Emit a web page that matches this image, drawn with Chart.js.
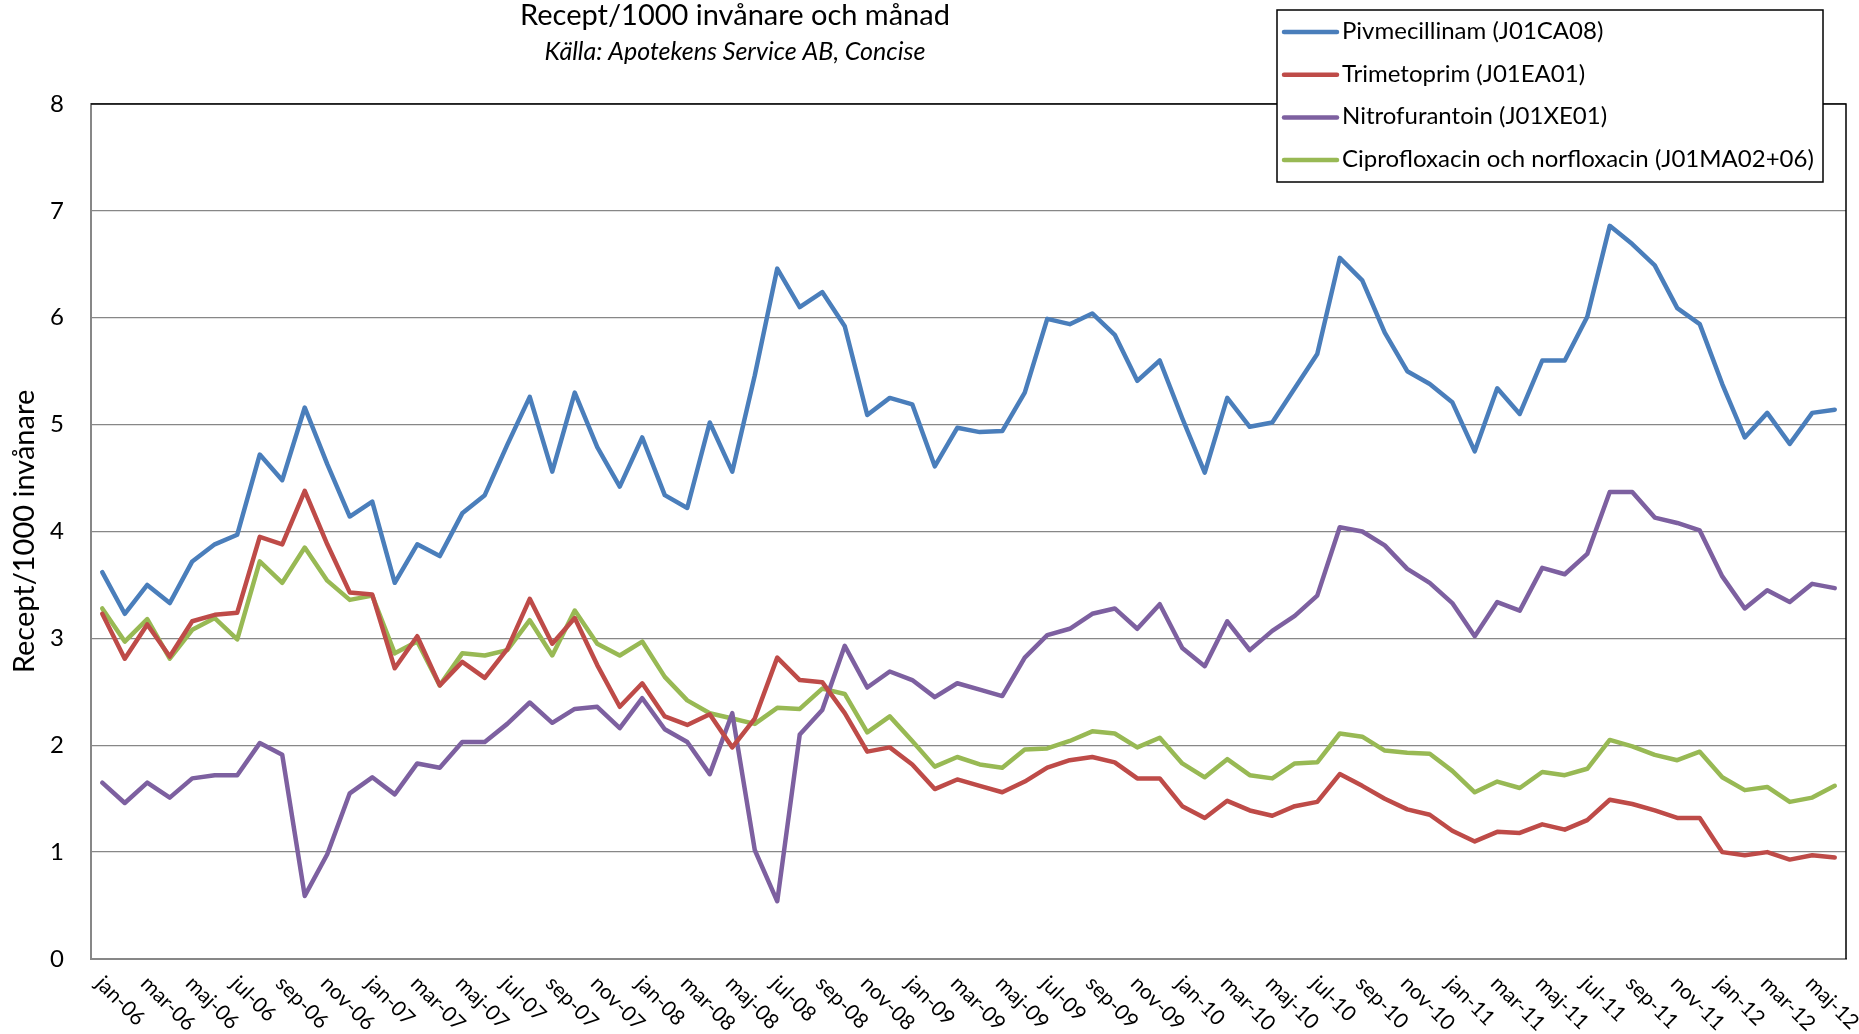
<!DOCTYPE html>
<html>
<head>
<meta charset="utf-8">
<title>Recept/1000 invånare och månad</title>
<script src="https://cdn.jsdelivr.net/npm/chart.js@4.4.1/dist/chart.umd.min.js"></script>
<style>
  html, body { margin: 0; padding: 0; background: #fff; }
  #wrap { width: 1859px; height: 1034px; position: relative; }
</style>
</head>
<body>
<div id="wrap"><canvas id="chart"></canvas></div>
<script>
var MONTHS = ['jan','feb','mar','apr','maj','jun','jul','aug','sep','okt','nov','dec'];
var YEARS = ['06','07','08','09','10','11','12'];
var MONTH_COUNT = 78; // jan-06 .. jun-12

var labels = [];
for (var i = 0; i < MONTH_COUNT; i++) {
  labels.push(MONTHS[i % 12] + '-' + YEARS[Math.floor(i / 12)]);
}

var SERIES_NAMES = [
  'Pivmecillinam (J01CA08)',
  'Trimetoprim (J01EA01)',
  'Nitrofurantoin (J01XE01)',
  'Ciprofloxacin och norfloxacin (J01MA02+06)'
];
var SERIES_COLORS = ['#4A7EBB', '#BE4B48', '#7D60A0', '#98B954'];

var pivmecillinam = [
  3.62, 3.23, 3.50, 3.33, 3.72, 3.88, 3.97, 4.72, 4.48, 5.16, 4.63, 4.14,
  4.28, 3.52, 3.88, 3.77, 4.17, 4.34, 4.81, 5.26, 4.56, 5.30, 4.79, 4.42,
  4.88, 4.34, 4.22, 5.02, 4.56, 5.46, 6.46, 6.10, 6.24, 5.92, 5.09, 5.25,
  5.19, 4.61, 4.97, 4.93, 4.94, 5.30, 5.99, 5.94, 6.04, 5.84, 5.41, 5.60,
  5.06, 4.55, 5.25, 4.98, 5.02, 5.34, 5.66, 6.56, 6.35, 5.86, 5.50, 5.38,
  5.21, 4.75, 5.34, 5.10, 5.60, 5.60, 6.01, 6.86, 6.69, 6.49, 6.09, 5.94,
  5.38, 4.88, 5.11, 4.82, 5.11, 5.14
];
var trimetoprim = [
  3.23, 2.81, 3.13, 2.83, 3.16, 3.22, 3.24, 3.95, 3.88, 4.38, 3.88, 3.43,
  3.41, 2.72, 3.02, 2.56, 2.78, 2.63, 2.90, 3.37, 2.95, 3.19, 2.75, 2.36,
  2.58, 2.27, 2.19, 2.29, 1.98, 2.25, 2.82, 2.61, 2.59, 2.30, 1.94, 1.98,
  1.82, 1.59, 1.68, 1.62, 1.56, 1.66, 1.79, 1.86, 1.89, 1.84, 1.69, 1.69,
  1.43, 1.32, 1.48, 1.39, 1.34, 1.43, 1.47, 1.73, 1.62, 1.50, 1.40, 1.35,
  1.20, 1.10, 1.19, 1.18, 1.26, 1.21, 1.30, 1.49, 1.45, 1.39, 1.32, 1.32,
  1.00, 0.97, 1.00, 0.93, 0.97, 0.95
];
var nitrofurantoin = [
  1.65, 1.46, 1.65, 1.51, 1.69, 1.72, 1.72, 2.02, 1.91, 0.59, 0.98, 1.55,
  1.70, 1.54, 1.83, 1.79, 2.03, 2.03, 2.20, 2.40, 2.21, 2.34, 2.36, 2.16,
  2.44, 2.15, 2.03, 1.73, 2.30, 1.02, 0.54, 2.10, 2.33, 2.93, 2.54, 2.69,
  2.61, 2.45, 2.58, 2.52, 2.46, 2.82, 3.03, 3.09, 3.23, 3.28, 3.09, 3.32,
  2.91, 2.74, 3.16, 2.89, 3.07, 3.21, 3.40, 4.04, 4.00, 3.87, 3.65, 3.52,
  3.33, 3.02, 3.34, 3.26, 3.66, 3.60, 3.79, 4.37, 4.37, 4.13, 4.08, 4.01,
  3.58, 3.28, 3.45, 3.34, 3.51, 3.47
];
var ciprofloxacin = [
  3.28, 2.97, 3.18, 2.81, 3.08, 3.19, 2.99, 3.72, 3.52, 3.85, 3.54, 3.36,
  3.40, 2.86, 2.97, 2.56, 2.86, 2.84, 2.89, 3.17, 2.84, 3.26, 2.95, 2.84,
  2.97, 2.64, 2.42, 2.30, 2.25, 2.20, 2.35, 2.34, 2.53, 2.48, 2.12, 2.27,
  2.04, 1.80, 1.89, 1.82, 1.79, 1.96, 1.97, 2.04, 2.13, 2.11, 1.98, 2.07,
  1.83, 1.70, 1.87, 1.72, 1.69, 1.83, 1.84, 2.11, 2.08, 1.95, 1.93, 1.92,
  1.76, 1.56, 1.66, 1.60, 1.75, 1.72, 1.78, 2.05, 1.99, 1.91, 1.86, 1.94,
  1.70, 1.58, 1.61, 1.47, 1.51, 1.62
];
var SERIES_VALUES = [pivmecillinam, trimetoprim, nitrofurantoin, ciprofloxacin];

var Y_MIN = 0, Y_MAX = 8, Y_STEP = 1;
var TITLE = 'Recept/1000 invånare och månad';
var SUBTITLE = 'Källa: Apotekens Service AB, Concise';
var Y_TITLE = 'Recept/1000 invånare';

var FONT = 'Lato, "Open Sans", sans-serif';
var GRID = '#878787';

// title, legend box, plot frame and slanted month labels
var extras = {
  id: 'extras',
  beforeDatasetsDraw: function(chart) {
    var ctx = chart.ctx, a = chart.chartArea;
    ctx.save();
    ctx.strokeStyle = '#000';
    ctx.lineWidth = 1.5;
    ctx.beginPath();
    ctx.moveTo(a.left, a.top);
    ctx.lineTo(a.right, a.top);
    ctx.lineTo(a.right, a.bottom);
    ctx.stroke();
    ctx.restore();
  },
  afterDraw: function(chart) {
    var ctx = chart.ctx, a = chart.chartArea, xs = chart.scales.x;
    ctx.save();

    // month labels, every second category, slanting down to the right
    ctx.fillStyle = '#000';
    ctx.font = '21px ' + FONT;
    ctx.textAlign = 'left';
    ctx.textBaseline = 'middle';
    for (var i = 0; i < labels.length; i += 2) {
      var px = xs.getPixelForValue(i);
      ctx.save();
      ctx.translate(px - 3, a.bottom + 21);
      ctx.rotate(Math.PI / 4);
      ctx.fillText(labels[i], 0, 0);
      ctx.restore();
    }

    // titles
    ctx.textAlign = 'center';
    ctx.textBaseline = 'alphabetic';
    ctx.font = '29px ' + FONT;
    ctx.fillText(TITLE, 735, 25);
    ctx.font = 'italic 25px ' + FONT;
    ctx.fillText(SUBTITLE, 735, 60);

    // legend
    var lx = 1277, ly = 10, lw = 546, lh = 172;
    ctx.fillStyle = '#fff';
    ctx.fillRect(lx, ly, lw, lh);
    ctx.strokeStyle = '#000';
    ctx.lineWidth = 1.5;
    ctx.strokeRect(lx, ly, lw, lh);
    ctx.font = '24px ' + FONT;
    ctx.textAlign = 'left';
    chart.data.datasets.forEach(function(ds, k) {
      var base = 39 + k * 42.7;
      ctx.strokeStyle = ds.borderColor;
      ctx.lineWidth = 4.5;
      ctx.lineCap = 'round';
      ctx.beginPath();
      ctx.moveTo(lx + 7, base - 7);
      ctx.lineTo(lx + 60, base - 7);
      ctx.stroke();
      ctx.fillStyle = '#000';
      ctx.fillText(ds.label, lx + 65, base);
    });
    ctx.restore();
  }
};

var datasets = SERIES_NAMES.map(function(name, k) {
  return {
    label: name,
    data: SERIES_VALUES[k],
    borderColor: SERIES_COLORS[k],
    backgroundColor: SERIES_COLORS[k],
    borderWidth: 4.5,
    pointRadius: 0,
    tension: 0,
    fill: false,
    borderJoinStyle: 'round',
    borderCapStyle: 'round'
  };
});

new Chart(document.getElementById('chart').getContext('2d'), {
  type: 'line',
  data: { labels: labels, datasets: datasets },
  options: {
    responsive: true,
    maintainAspectRatio: false,
    animation: false,
    layout: { padding: { top: 104, right: 13, left: 0, bottom: 0 } },
    plugins: {
      legend: { display: false },
      title: { display: false },
      tooltip: { enabled: false }
    },
    scales: {
      x: {
        type: 'category',
        offset: true,
        grid: { display: false },
        border: { color: GRID, width: 2 },
        ticks: { display: false },
        afterFit: function(s) { s.height = 75; }
      },
      y: {
        min: Y_MIN,
        max: Y_MAX,
        ticks: {
          stepSize: Y_STEP,
          color: '#000',
          padding: 27,
          font: { family: FONT, size: 24 }
        },
        grid: { color: GRID, lineWidth: 1.3, drawTicks: false },
        border: { color: GRID, width: 2 },
        title: {
          display: true,
          text: Y_TITLE,
          color: '#000',
          padding: { top: 7, bottom: 0 },
          font: { family: FONT, size: 29 }
        },
        afterFit: function(s) { s.width = 91; }
      }
    }
  },
  plugins: [extras]
});
</script>
</body>
</html>
